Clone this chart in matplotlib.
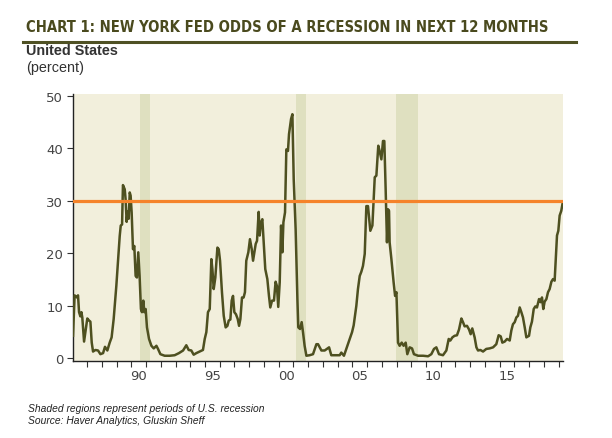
import matplotlib.pyplot as plt
from matplotlib.ticker import FixedLocator

# ---- data (decimal year, percent) ----
years = [1986.04, 1986.15, 1986.31, 1986.38, 1986.45, 1986.54, 1986.61, 1986.67, 1986.79, 1986.88,
         1987.01, 1987.13, 1987.22, 1987.31, 1987.40, 1987.56, 1987.74, 1987.90, 1988.08, 1988.21,
         1988.37, 1988.53, 1988.66, 1988.80, 1988.98, 1989.12, 1989.21, 1989.28, 1989.37, 1989.43,
         1989.55, 1989.61, 1989.68, 1989.75, 1989.82, 1989.89, 1989.95, 1990.02, 1990.11, 1990.20,
         1990.29, 1990.38, 1990.47, 1990.56, 1990.65, 1990.72, 1990.81, 1990.88, 1990.97, 1991.06,
         1991.20, 1991.36, 1991.52, 1991.70, 1991.81, 1991.97, 1992.26, 1992.60, 1992.94, 1993.23,
         1993.51, 1993.73, 1993.89, 1994.07, 1994.23, 1994.41, 1994.64, 1994.86, 1994.98, 1995.09,
         1995.20, 1995.32, 1995.43, 1995.50, 1995.59, 1995.70, 1995.84, 1995.93, 1996.02, 1996.15,
         1996.27, 1996.40, 1996.52, 1996.61, 1996.72, 1996.81, 1996.90, 1996.99, 1997.10, 1997.22,
         1997.31, 1997.40, 1997.51, 1997.62, 1997.71, 1997.80, 1997.94, 1998.05, 1998.17, 1998.26,
         1998.35, 1998.44, 1998.53, 1998.64, 1998.71, 1998.80, 1998.89, 1998.98, 1999.09, 1999.23,
         1999.34, 1999.43, 1999.55, 1999.68, 1999.79, 1999.88, 1999.97, 2000.07, 2000.16, 2000.25,
         2000.32, 2000.43, 2000.52, 2000.63, 2000.70, 2000.84, 2000.93, 2001.02, 2001.15, 2001.27,
         2001.33, 2001.45, 2001.56, 2001.65, 2001.76, 2001.88, 2002.10, 2002.33, 2002.56, 2002.67,
         2002.90, 2003.12, 2003.42, 2003.57, 2004.14, 2004.25, 2004.43, 2004.59, 2004.82, 2004.98,
         2005.09, 2005.27, 2005.38, 2005.50, 2005.61, 2005.72, 2005.84, 2005.95, 2006.06, 2006.22,
         2006.36, 2006.52, 2006.63, 2006.76, 2006.85, 2006.97, 2007.08, 2007.17, 2007.26, 2007.35,
         2007.42, 2007.49, 2007.53, 2007.65, 2007.80, 2007.90, 2007.99, 2008.10, 2008.21, 2008.35,
         2008.48, 2008.62, 2008.73, 2008.89, 2009.05, 2009.18, 2009.46, 2009.80, 2010.14, 2010.36,
         2010.54, 2010.70, 2010.88, 2011.15, 2011.38, 2011.54, 2011.65, 2011.79, 2011.94, 2012.10,
         2012.24, 2012.40, 2012.51, 2012.62, 2012.78, 2012.92, 2013.03, 2013.14, 2013.30, 2013.42,
         2013.53, 2013.69, 2013.87, 2014.09, 2014.32, 2014.55, 2014.77, 2014.93, 2015.07, 2015.18,
         2015.34, 2015.50, 2015.68, 2015.79, 2015.90, 2016.02, 2016.13, 2016.24, 2016.36, 2016.47,
         2016.58, 2016.70, 2016.81, 2016.99, 2017.08, 2017.19, 2017.31, 2017.42, 2017.53, 2017.67,
         2017.78, 2017.87, 2017.96, 2018.05, 2018.17, 2018.28, 2018.39, 2018.51, 2018.62, 2018.73,
         2018.80, 2018.89, 2018.98, 2019.07, 2019.18, 2019.28]
odds = [4.3, 12.0, 11.6, 12.0, 8.8, 8.0, 8.8, 7.8, 3.2, 5.0,
        7.6, 7.2, 7.0, 3.0, 1.3, 1.6, 1.5, 0.8, 1.0, 2.2,
        1.5, 3.0, 4.0, 7.5, 13.8, 19.5, 23.3, 25.3, 25.5, 33.0,
        32.2, 30.3, 26.0, 28.0, 26.6, 31.6, 31.0, 27.8, 20.8, 21.4,
        15.7, 15.4, 20.2, 15.7, 9.4, 8.8, 11.0, 8.8, 9.4, 5.9,
        3.7, 2.4, 1.9, 2.4, 1.8, 0.8, 0.5, 0.5, 0.6, 1.0,
        1.5, 2.5, 1.6, 1.5, 0.7, 1.0, 1.3, 1.6, 3.7, 5.0,
        8.8, 9.4, 18.9, 17.0, 13.2, 15.4, 21.1, 20.8, 18.6, 12.6,
        8.1, 5.9, 6.2, 7.2, 7.4, 11.0, 11.9, 8.8, 8.4, 7.5,
        6.2, 7.5, 11.6, 11.6, 12.6, 18.6, 20.2, 22.7, 20.8, 18.6,
        20.2, 21.8, 22.4, 27.9, 23.4, 25.9, 26.5, 22.1, 17.0, 15.1,
        11.9, 9.7, 11.0, 11.0, 14.6, 13.8, 9.8, 14.5, 25.3, 20.2,
        25.9, 27.8, 39.8, 39.5, 42.7, 45.6, 46.5, 34.1, 24.6, 11.3,
        5.9, 5.6, 6.9, 5.0, 2.4, 0.5, 0.6, 0.8, 2.7, 2.7,
        1.5, 1.5, 2.1, 0.6, 0.6, 1.1, 0.5, 1.8, 3.7, 5.0,
        6.3, 10.0, 13.2, 15.7, 16.5, 17.6, 19.9, 29.0, 29.0, 24.3,
        25.3, 34.5, 34.8, 40.5, 39.5, 37.9, 41.4, 41.4, 32.2, 22.1,
        28.4, 28.1, 22.1, 18.9, 14.5, 11.9, 12.6, 3.0, 2.4, 3.0,
        2.4, 3.0, 0.8, 2.1, 1.9, 0.8, 0.5, 0.5, 0.4, 0.8,
        1.8, 2.1, 0.8, 0.6, 1.5, 3.7, 3.4, 4.0, 4.3, 4.4,
        5.5, 7.6, 6.9, 6.1, 6.2, 5.5, 4.6, 5.7, 4.0, 2.1,
        1.5, 1.6, 1.3, 1.8, 1.9, 2.1, 2.7, 4.4, 4.2, 3.0,
        3.2, 3.7, 3.4, 5.3, 6.5, 6.9, 7.8, 8.1, 9.7, 8.8,
        7.8, 5.9, 4.0, 4.3, 5.9, 7.0, 9.4, 9.9, 9.7, 11.3,
        10.7, 11.6, 9.4, 10.8, 11.3, 12.6, 13.2, 14.6, 15.1, 14.8,
        18.6, 23.4, 24.3, 27.2, 28.1, 29.7]

recessions = [(1990.58, 1991.25), (2001.17, 2001.88), (2007.96, 2009.45)]
threshold = 30
tick_pos = [1990.5, 1995.5, 2000.5, 2005.5, 2010.5, 2015.5]
tick_labels = ['90', '95', '00', '05', '10', '15']

# ---- colours ----
olive = '#4e5020'
cream = '#f2efdc'
shade = '#dfe0c0'
orange = '#f5832a'
title_col = '#4a4a1e'

fig = plt.figure(figsize=(6.12, 4.39), dpi=100)
ax = fig.add_axes([0.1193, 0.176, 0.8007, 0.6076])
ax.set_facecolor(cream)

for start, end in recessions:
    ax.axvspan(start, end, color=shade, lw=0, zorder=1)

ax.plot(years, odds, color=olive, lw=1.8, zorder=3)
ax.axhline(threshold, color=orange, lw=2.3, zorder=4)

ax.set_xlim(1986.04, 2019.3)
ax.set_ylim(-0.45, 50.35)
ax.set_yticks([0, 10, 20, 30, 40, 50])

ax.xaxis.set_major_locator(FixedLocator(tick_pos))
ax.set_xticklabels(tick_labels)
ax.xaxis.set_minor_locator(FixedLocator(range(1987, 2020)))
ax.tick_params(axis='x', which='major', length=0, pad=6)
ax.tick_params(axis='x', which='minor', length=4, width=0.8, color='#333333', direction='out')
ax.tick_params(axis='y', length=4, width=0.8, color='#333333', direction='out', pad=3)
ax.tick_params(labelsize=9.5, labelcolor='#444444')

for side in ['top', 'right']:
    ax.spines[side].set_visible(False)
for side in ['left', 'bottom']:
    ax.spines[side].set_color('#222222')
    ax.spines[side].set_linewidth(1.0)

# ---- headings ----
fig.text(26 / 612, 1 - 27 / 439, 'CHART 1: NEW YORK FED ODDS OF A RECESSION IN NEXT 12 MONTHS',
         fontsize=10.6, fontweight='bold', color=title_col, va='center', ha='left',
         family=['Liberation Sans Narrow', 'DejaVu Sans'], fontstretch='condensed')
fig.add_artist(plt.Line2D([23 / 612, 576 / 612], [1 - 42.5 / 439, 1 - 42.5 / 439],
                          color='#4f5124', lw=2.2))
fig.text(26 / 612, 1 - 51 / 439, 'United States', fontsize=10.4, fontweight='bold',
         color='#333333', va='center', ha='left', family='Liberation Sans')
fig.text(26 / 612, 1 - 68 / 439, '(percent)', fontsize=10.4,
         color='#333333', va='center', ha='left', family='Liberation Sans')

fig.text(28 / 612, 1 - 409 / 439, 'Shaded regions represent periods of U.S. recession',
         fontsize=7.4, style='italic', color='#222222', va='center', ha='left', family='Liberation Sans')
fig.text(28 / 612, 1 - 421.5 / 439, 'Source: Haver Analytics, Gluskin Sheff',
         fontsize=7.4, style='italic', color='#222222', va='center', ha='left', family='Liberation Sans')

fig.savefig('out.png', dpi=100)
